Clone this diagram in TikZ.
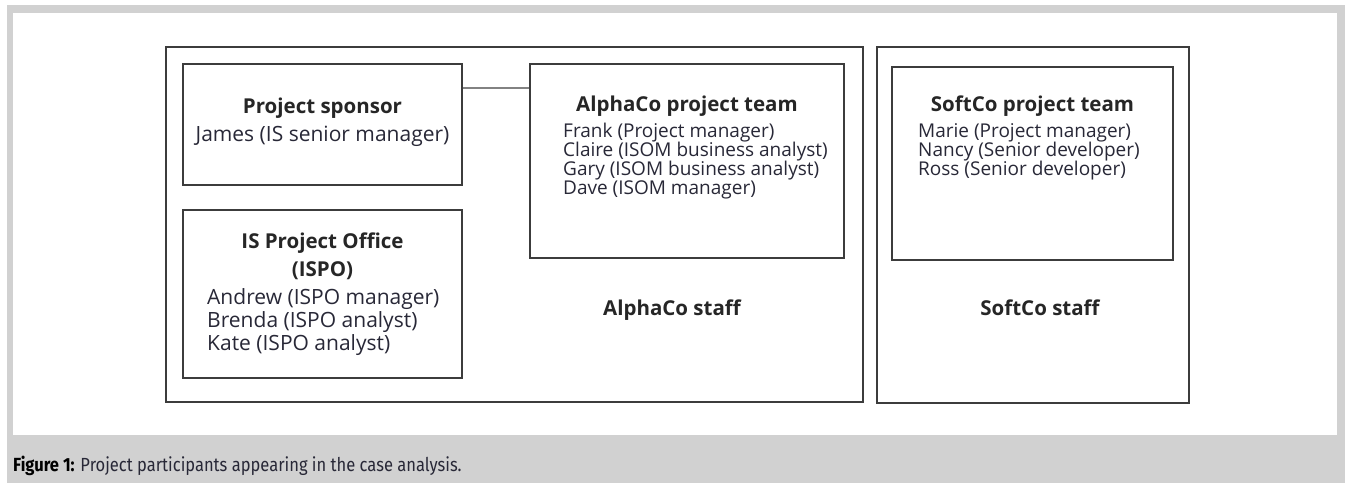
\documentclass[tikz,border=0pt]{standalone}
\usepackage{fontspec}
\setmainfont{Open Sans}
\newfontfamily\capfont[FakeStretch=0.87]{Fira Sans}
\definecolor{framegray}{RGB}{209,209,209}
\definecolor{boxline}{RGB}{60,60,60}
\definecolor{linkgray}{RGB}{130,130,130}
\definecolor{ink}{RGB}{40,40,55}

\begin{document}
\begin{tikzpicture}[x=1pt,y=-1pt,
  box/.style={draw=boxline,line width=1.5pt,inner sep=0pt},
  head/.style={font=\fontsize{20.5}{28}\selectfont\bfseries,text=black!85,inner sep=0pt,anchor=base,align=center},
  member/.style={font=\fontsize{19}{19}\selectfont,text=ink,inner sep=0pt,anchor=base west,align=left},
  bigmember/.style={member,font=\fontsize{21}{23}\selectfont}]
\useasboundingbox (0,0) rectangle (1345,483);
\fill[framegray] (7,5) rectangle (1345,483);
\fill[white] (13,13) rectangle (1337,435);

% staff boxes
\node[box,minimum width=697pt,minimum height=355pt] at (514.5,224.5) (alphastaff) {};
\node[box,minimum width=312pt,minimum height=356pt] at (1033,225) (softstaff) {};

% inner boxes
\node[box,minimum width=279pt,minimum height=121pt] at (322.5,124.5) (sponsor) {};
\node[box,minimum width=279pt,minimum height=168pt] at (322.5,294) (ispo) {};
\node[box,minimum width=314pt,minimum height=194pt] at (687,161) (alphateam) {};
\node[box,minimum width=281pt,minimum height=193pt] at (1032.5,163.5) (softteam) {};

\coordinate (linky) at (0,88);
\draw[linkgray,line width=1.5pt] (sponsor.east |- linky) -- (alphateam.west |- linky);

% texts (base of a multi-line node = its last line)
\node[head] at (322.5,113) (sponsorhead) {Project sponsor};
\node[bigmember,anchor=base] at (322.5,141) (sponsorname) {James (IS senior manager)};

\node[head] at (322.5,276) (ispohead) {IS Project Office\\(ISPO)};
\node[bigmember] at (207,350) (ispolist) {Andrew (ISPO manager)\\Brenda (ISPO analyst)\\Kate (ISPO analyst)};

\node[head] at (687,111) (alphahead) {AlphaCo project team};
\node[member] at (563,194) (alphalist) {Frank (Project manager)\\Claire (ISOM business analyst)\\Gary (ISOM business analyst)\\Dave (ISOM manager)};

\node[head] at (1032.5,111) (softhead) {SoftCo project team};
\node[member] at (918,175) (softlist) {Marie (Project manager)\\Nancy (Senior developer)\\Ross (Senior developer)};

\node[head] at (672,315) (alphalabel) {AlphaCo staff};
\node[head] at (1040,315) (softlabel) {SoftCo staff};

\node[anchor=base west,inner sep=0pt,font=\capfont\fontsize{19}{19}\selectfont,text=ink] at (13,471) (caption) {\textbf{\color{black}Figure 1:} Project participants appearing in the case analysis.};
\end{tikzpicture}
\end{document}
